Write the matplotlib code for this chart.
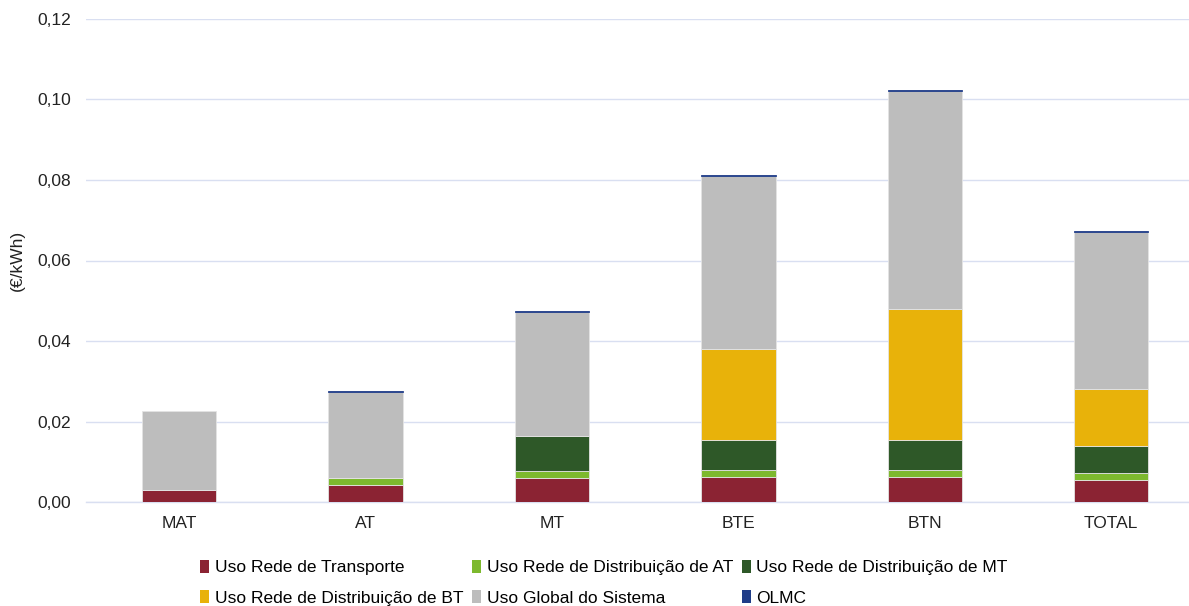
import numpy as np
import matplotlib.pyplot as plt
from matplotlib.patches import Patch
from matplotlib.ticker import FuncFormatter

plt.rcParams['font.family'] = ['Liberation Sans', 'DejaVu Sans']

categorias = ['MAT', 'AT', 'MT', 'BTE', 'BTN', 'TOTAL']
transporte = [0.0030, 0.0043, 0.0059, 0.0063, 0.0063, 0.0055]
dist_at = [0.0000, 0.0016, 0.0017, 0.0016, 0.0016, 0.0018]
dist_mt = [0.0000, 0.0000, 0.0088, 0.0075, 0.0075, 0.0065]
dist_bt = [0.0000, 0.0000, 0.0000, 0.0225, 0.0325, 0.0142]
uso_global = [0.0195, 0.0215, 0.0307, 0.0430, 0.0541, 0.0390]
olmc = [0.0000, 0.0003, 0.0004, 0.0003, 0.0004, 0.0004]

series = [
    ('Uso Rede de Transporte', transporte, '#8B2333'),
    ('Uso Rede de Distribuição de AT', dist_at, '#7DB92E'),
    ('Uso Rede de Distribuição de MT', dist_mt, '#2E5828'),
    ('Uso Rede de Distribuição de BT', dist_bt, '#E8B20A'),
    ('Uso Global do Sistema', uso_global, '#BDBDBD'),
    ('OLMC', olmc, '#1F3C88'),
]

fs = 12.5
fig = plt.figure(figsize=(11.89, 6.06), dpi=100)
ax = fig.add_axes([86 / 1189, 1 - 502 / 606, 1 - 86 / 1189, (502 - 19) / 606])

x = np.arange(len(categorias))
base = np.zeros(len(categorias))
handles = []
for nome, vals, cor in series:
    vals = np.array(vals)
    borda = cor if nome == 'OLMC' else '#e4e4e4'
    # sem contorno nas barras de valor zero
    lw = [0.6 if v > 0 else 0 for v in vals]
    ax.bar(x, vals, width=0.4, bottom=base, color=cor, edgecolor=borda,
           linewidth=lw, zorder=3)
    base += vals
    handles.append(Patch(facecolor=cor, label=nome))

ax.set_ylim(0, 0.12)
ax.set_yticks(np.arange(0, 0.121, 0.02))
ax.yaxis.set_major_formatter(FuncFormatter(lambda v, p: f'{v:.2f}'.replace('.', ',')))
ax.set_xlim(-0.5, -0.5 + (1189 - 86) / 186.4)
ax.set_xticks(x)
ax.set_xticklabels(categorias)
ax.grid(axis='y', color='#D9DFF1', linewidth=1.0, zorder=0)
for s in ['top', 'right', 'left']:
    ax.spines[s].set_visible(False)
ax.spines['bottom'].set_color('#D9DFF1')
ax.spines['bottom'].set_linewidth(1.0)
ax.tick_params(axis='both', length=0, labelsize=fs, colors='#222222')
ax.tick_params(axis='y', pad=11)
ax.tick_params(axis='x', pad=10)
ax.set_ylabel('(€/kWh)', fontsize=fs, color='#222222')
ax.yaxis.set_label_coords(-0.055, 0.5)

ordem = [0, 3, 1, 4, 2, 5]
fig.legend([handles[i] for i in ordem], [series[i][0] for i in ordem],
           loc='upper left', bbox_to_anchor=(193 / 1189, 1 - 553 / 606),
           ncol=3, frameon=False, fontsize=fs, handlelength=0.55, handleheight=0.75,
           handletextpad=0.3, columnspacing=0.5, labelspacing=0.85, borderaxespad=0)

fig.savefig('out.png', dpi=100)
